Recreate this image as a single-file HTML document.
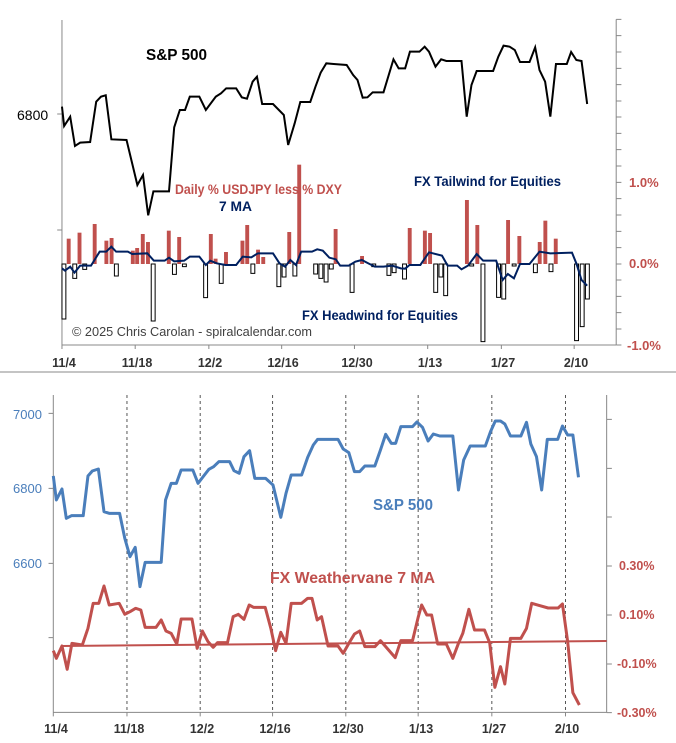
<!DOCTYPE html>
<html><head><meta charset="utf-8"><style>
html,body{margin:0;padding:0;background:#fff}
svg{display:block}
text{font-family:"Liberation Sans Narrow","Liberation Sans",sans-serif;font-weight:bold}
</style></head><body>
<svg width="676" height="743" viewBox="0 0 676 743" xmlns="http://www.w3.org/2000/svg">
<line x1="0" y1="372" x2="676" y2="372" stroke="#888" stroke-width="1"/>
<g transform="scale(0.43333,0.33333)">
<line x1="143" y1="60" x2="143" y2="1035" stroke="#888" stroke-width="1" vector-effect="non-scaling-stroke"/>
<line x1="143" y1="1035" x2="1422" y2="1035" stroke="#888" stroke-width="1" vector-effect="non-scaling-stroke"/>
<line x1="1422" y1="58" x2="1422" y2="1035" stroke="#888" stroke-width="1" vector-effect="non-scaling-stroke"/>
<path d="M1422 58h12M1422 107h12M1422 156h12M1422 205h12M1422 254h12M1422 303h12M1422 351h12M1422 400h12M1422 449h12M1422 498h12M1422 547h12M1422 596h12M1422 645h12M1422 694h12M1422 743h12M1422 792h12M1422 840h12M1422 889h12M1422 938h12M1422 987h12M1422 1035h12M132 342h11M132 690h11M143 1035v12M312 1035v12M482 1035v12M650 1035v12M818 1035v12M987 1035v12M1157 1035v12M1325 1035v12" stroke="#888" stroke-width="1" vector-effect="non-scaling-stroke" fill="none"/>
<g fill="#c0504d">
<rect x="154" y="716" width="9" height="76"/><rect x="179" y="698" width="9" height="94"/><rect x="214" y="672" width="9" height="120"/><rect x="241" y="722" width="9" height="70"/><rect x="253" y="714" width="9" height="78"/><rect x="302" y="752" width="9" height="40"/><rect x="312" y="744" width="9" height="48"/><rect x="325" y="702" width="9" height="90"/><rect x="337" y="726" width="9" height="66"/><rect x="385" y="692" width="9" height="100"/><rect x="409" y="711" width="9" height="81"/><rect x="482" y="702" width="9" height="90"/><rect x="493" y="776" width="9" height="16"/><rect x="517" y="756" width="9" height="36"/><rect x="555" y="722" width="9" height="70"/><rect x="566" y="675" width="9" height="117"/><rect x="591" y="749" width="9" height="43"/><rect x="603" y="771" width="9" height="21"/><rect x="663" y="696" width="9" height="96"/><rect x="686" y="494" width="9" height="298"/><rect x="770" y="687" width="9" height="105"/><rect x="831" y="768" width="9" height="24"/><rect x="941" y="684" width="9" height="108"/><rect x="976" y="692" width="9" height="100"/><rect x="988" y="699" width="9" height="93"/><rect x="1073" y="600" width="9" height="192"/><rect x="1097" y="675" width="9" height="117"/><rect x="1168" y="660" width="9" height="132"/><rect x="1194" y="708" width="9" height="84"/><rect x="1241" y="726" width="9" height="66"/><rect x="1254" y="662" width="9" height="130"/><rect x="1278" y="716" width="9" height="76"/>
</g>
<g fill="#fff" stroke="#000" stroke-width="1">
<rect vector-effect="non-scaling-stroke" x="143" y="792" width="9" height="165"/><rect vector-effect="non-scaling-stroke" x="168" y="792" width="9" height="43"/><rect vector-effect="non-scaling-stroke" x="191" y="792" width="9" height="16"/><rect vector-effect="non-scaling-stroke" x="264" y="792" width="9" height="36"/><rect vector-effect="non-scaling-stroke" x="349" y="792" width="9" height="171"/><rect vector-effect="non-scaling-stroke" x="398" y="792" width="9" height="31"/><rect vector-effect="non-scaling-stroke" x="421" y="792" width="9" height="8"/><rect vector-effect="non-scaling-stroke" x="470" y="792" width="9" height="101"/><rect vector-effect="non-scaling-stroke" x="506" y="792" width="9" height="58"/><rect vector-effect="non-scaling-stroke" x="579" y="792" width="9" height="28"/><rect vector-effect="non-scaling-stroke" x="639" y="792" width="9" height="68"/><rect vector-effect="non-scaling-stroke" x="651" y="792" width="9" height="39"/><rect vector-effect="non-scaling-stroke" x="676" y="792" width="9" height="36"/><rect vector-effect="non-scaling-stroke" x="724" y="792" width="9" height="30"/><rect vector-effect="non-scaling-stroke" x="736" y="792" width="9" height="43"/><rect vector-effect="non-scaling-stroke" x="748" y="792" width="9" height="54"/><rect vector-effect="non-scaling-stroke" x="760" y="792" width="9" height="15"/><rect vector-effect="non-scaling-stroke" x="808" y="792" width="9" height="85"/><rect vector-effect="non-scaling-stroke" x="858" y="792" width="9" height="8"/><rect vector-effect="non-scaling-stroke" x="893" y="792" width="9" height="34"/><rect vector-effect="non-scaling-stroke" x="905" y="792" width="9" height="26"/><rect vector-effect="non-scaling-stroke" x="929" y="792" width="9" height="45"/><rect vector-effect="non-scaling-stroke" x="1001" y="792" width="9" height="85"/><rect vector-effect="non-scaling-stroke" x="1013" y="792" width="9" height="39"/><rect vector-effect="non-scaling-stroke" x="1024" y="792" width="9" height="95"/><rect vector-effect="non-scaling-stroke" x="1084" y="792" width="9" height="6"/><rect vector-effect="non-scaling-stroke" x="1110" y="792" width="9" height="233"/><rect vector-effect="non-scaling-stroke" x="1146" y="792" width="9" height="100"/><rect vector-effect="non-scaling-stroke" x="1158" y="792" width="9" height="105"/><rect vector-effect="non-scaling-stroke" x="1182" y="792" width="9" height="6"/><rect vector-effect="non-scaling-stroke" x="1231" y="792" width="9" height="26"/><rect vector-effect="non-scaling-stroke" x="1267" y="792" width="9" height="23"/><rect vector-effect="non-scaling-stroke" x="1326" y="792" width="9" height="230"/><rect vector-effect="non-scaling-stroke" x="1339" y="792" width="9" height="188"/><rect vector-effect="non-scaling-stroke" x="1351" y="792" width="9" height="105"/>
</g>
<polyline vector-effect="non-scaling-stroke" fill="none" stroke="#000" stroke-width="2" points="143,320 148,378 162,350 173,438 185,428 208,426 222,305 233,290 244,286 257,418 292,420 305,490 317,555 330,525 342,646 354,574 390,574 402,382 415,330 427,330 438,290 460,290 475,330 498,290 510,280 522,265 545,265 558,292 570,296 583,245 593,230 605,312 630,312 655,345 665,435 680,370 693,306 716,306 728,260 740,218 753,190 770,192 800,195 815,225 825,240 837,293 848,292 860,277 885,277 908,178 920,205 935,205 946,155 968,155 980,140 990,155 1005,200 1018,178 1030,183 1065,183 1077,350 1088,255 1100,213 1138,213 1150,170 1162,137 1176,140 1188,150 1200,186 1222,186 1235,142 1245,210 1258,245 1270,350 1283,192 1308,192 1318,156 1330,180 1342,183 1355,312"/>
<polyline vector-effect="non-scaling-stroke" fill="none" stroke="#002060" stroke-width="2" points="143,805 150,812 162,800 172,818 185,797 210,797 230,755 245,755 257,740 268,755 295,755 305,762 340,760 355,782 380,782 390,773 402,784 425,782 438,770 460,770 475,795 485,782 500,790 520,795 545,795 560,770 580,772 595,760 630,760 645,790 658,800 670,780 683,795 695,755 720,755 732,748 745,752 760,773 775,778 785,797 805,797 820,785 835,780 850,790 865,800 885,800 905,797 925,805 935,806 945,795 970,795 990,757 1020,767 1033,797 1055,797 1065,808 1080,797 1100,762 1115,782 1145,782 1160,840 1172,822 1186,835 1200,792 1222,792 1245,755 1270,760 1320,758 1330,790 1342,840 1355,857"/>
</g>
<text x="17" y="120" font-size="14" fill="#000" style="font-weight:normal">6800</text>
<text x="146" y="60" font-size="16" fill="#000" textLength="61" lengthAdjust="spacingAndGlyphs">S&amp;P 500</text>
<text x="175" y="194" font-size="13.5" fill="#c0504d" textLength="167" lengthAdjust="spacingAndGlyphs">Daily % USDJPY less % DXY</text>
<text x="219" y="211" font-size="13.5" fill="#002060" textLength="33" lengthAdjust="spacingAndGlyphs">7 MA</text>
<text x="414" y="186" font-size="13.5" fill="#002060" textLength="147" lengthAdjust="spacingAndGlyphs">FX Tailwind for Equities</text>
<text x="302" y="320" font-size="13.5" fill="#002060" textLength="156" lengthAdjust="spacingAndGlyphs">FX Headwind for Equities</text>
<text x="72" y="336" font-size="13" fill="#404040" style="font-weight:normal" textLength="240" lengthAdjust="spacingAndGlyphs">© 2025 Chris Carolan - spiralcalendar.com</text>
<g font-size="13" fill="#c0504d">
<text x="629" y="187">1.0%</text><text x="629" y="268">0.0%</text><text x="627" y="350">-1.0%</text>
</g>
<g font-size="12.5" fill="#333" text-anchor="middle">
<text x="64" y="367">11/4</text><text x="137" y="367">11/18</text><text x="210" y="367">12/2</text><text x="283" y="367">12/16</text><text x="357" y="367">12/30</text><text x="430" y="367">1/13</text><text x="503" y="367">1/27</text><text x="576" y="367">2/10</text>
</g>
<g transform="translate(0,370) scale(0.43333,0.33333)">
<path d="M293 75V1027M462 75V1027M629 75V1027M798 75V1027M965 75V1027M1135 75V1027M1305 75V1027" stroke="#555" stroke-width="1" stroke-dasharray="3,3" vector-effect="non-scaling-stroke" fill="none"/>
<path d="M123 75V1027H1400M1400 75V1027M1400 148h12M1400 295h12M1400 441h12M1400 588h12M1400 735h12M1400 882h12M1400 1028h12M112 130h11M112 355h11M112 580h11M112 803h11M123 1027v12M293 1027v12M462 1027v12M629 1027v12M798 1027v12M965 1027v12M1135 1027v12M1305 1027v12" stroke="#888" stroke-width="1" vector-effect="non-scaling-stroke" fill="none"/>
<line x1="143" y1="828" x2="1400" y2="813" stroke="#c0504d" stroke-width="2" vector-effect="non-scaling-stroke"/>
<polyline vector-effect="non-scaling-stroke" fill="none" stroke="#4a7ebb" stroke-width="3" stroke-linejoin="round" points="123,318 130,390 143,357 153,445 165,437 192,437 203,318 213,303 227,297 240,425 252,430 276,430 288,505 300,560 312,532 323,650 335,577 372,577 382,390 395,340 407,340 418,300 445,300 457,340 470,318 482,298 493,290 505,275 530,275 540,302 552,310 563,260 576,242 588,325 613,325 630,345 648,442 660,370 672,315 696,315 710,262 723,225 733,208 780,208 792,237 805,248 818,305 830,305 842,288 865,288 878,240 890,193 903,220 913,220 925,170 952,170 962,156 975,172 988,213 1000,192 1015,198 1045,198 1058,360 1070,270 1085,228 1120,228 1132,185 1143,153 1155,153 1165,162 1178,198 1202,198 1215,157 1225,222 1238,260 1250,360 1263,208 1287,208 1298,168 1310,195 1322,195 1335,322"/>
<polyline vector-effect="non-scaling-stroke" fill="none" stroke="#c0504d" stroke-width="3" stroke-linejoin="round" points="123,842 130,865 143,828 155,898 166,820 190,825 203,775 215,700 228,700 240,648 252,705 275,700 288,733 300,725 313,715 325,720 335,772 360,772 372,750 383,783 395,790 408,822 418,747 443,747 455,835 467,783 480,815 492,832 502,818 525,818 538,740 550,733 563,748 575,705 585,712 612,712 625,775 636,842 648,787 660,820 672,700 696,700 710,685 720,685 732,750 742,740 757,828 780,828 792,850 805,820 818,792 830,783 842,830 865,830 878,812 890,830 912,863 925,812 952,812 965,742 973,705 985,735 996,735 1010,822 1030,822 1045,865 1058,820 1068,790 1082,718 1095,780 1118,780 1130,818 1142,952 1155,890 1165,942 1178,805 1202,805 1215,775 1227,700 1240,705 1265,714 1288,714 1298,702 1310,815 1322,968 1337,1005"/>
</g>
<g font-size="13" fill="#4a7ebb">
<text x="13" y="419" style="font-weight:normal">7000</text><text x="13" y="493" style="font-weight:normal">6800</text><text x="13" y="568" style="font-weight:normal">6600</text>
</g>
<text x="373" y="510" font-size="16" fill="#4a7ebb" textLength="60" lengthAdjust="spacingAndGlyphs">S&amp;P 500</text>
<text x="270" y="583" font-size="16" fill="#c0504d" textLength="165" lengthAdjust="spacingAndGlyphs">FX Weathervane 7 MA</text>
<g font-size="12.5" fill="#c0504d">
<text x="619" y="570">0.30%</text><text x="619" y="619">0.10%</text><text x="617" y="668">-0.10%</text><text x="617" y="717">-0.30%</text>
</g>
<g font-size="12.5" fill="#333" text-anchor="middle">
<text x="56" y="733">11/4</text><text x="129" y="733">11/18</text><text x="202" y="733">12/2</text><text x="275" y="733">12/16</text><text x="348" y="733">12/30</text><text x="421" y="733">1/13</text><text x="494" y="733">1/27</text><text x="567" y="733">2/10</text>
</g>
</svg>
</body></html>
